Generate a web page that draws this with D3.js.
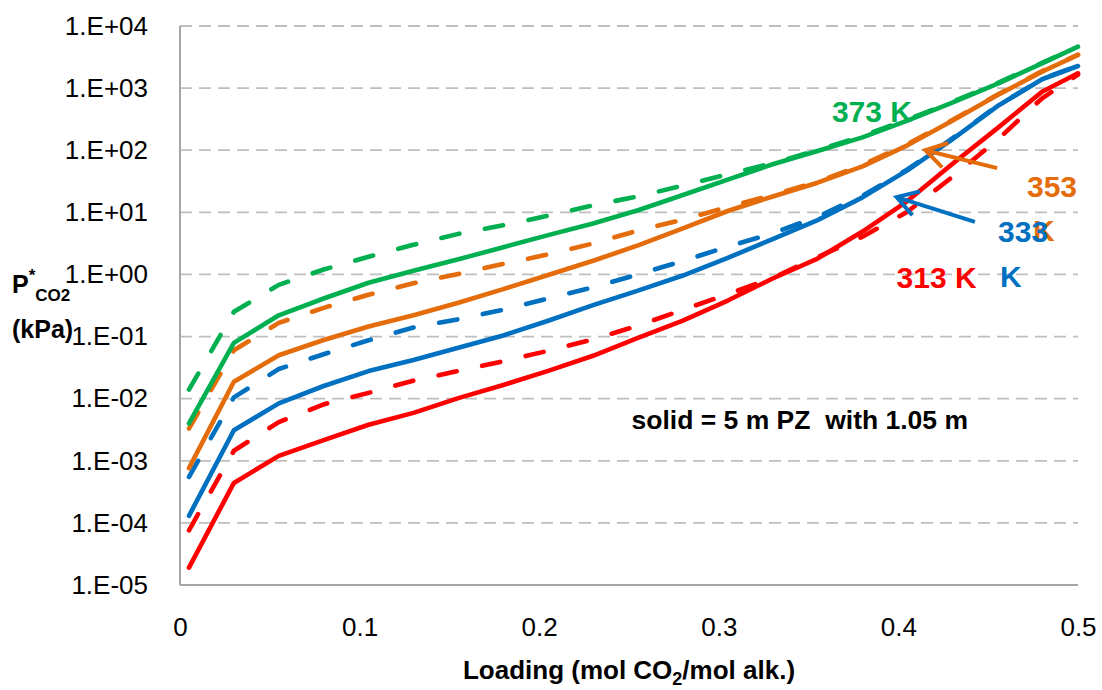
<!DOCTYPE html>
<html>
<head>
<meta charset="utf-8">
<script src="https://cdn.jsdelivr.net/npm/d3@7"></script>
<style>
  html, body { margin: 0; padding: 0; background: #ffffff; }
  svg { display: block; }
  text { font-family: "Liberation Sans", Arial, sans-serif; }
</style>
</head>
<body>
<svg id="chart" width="1102" height="690"></svg>
<script>
// ---------------- data ----------------
const loading = [0.005, 0.03, 0.055, 0.08, 0.105, 0.13, 0.155, 0.18, 0.205, 0.23, 0.255,
                 0.28, 0.305, 0.33, 0.355, 0.38, 0.405, 0.43, 0.455, 0.48, 0.5];

const solid313 = [1.9e-5, 4.4e-4, 1.2e-3, 2.15e-3, 3.8e-3, 5.9e-3, 1.02e-2, 1.66e-2, 2.8e-2, 4.9e-2, 9.5e-2,
                  0.18, 0.38, 0.86, 1.8, 4.9, 15.2, 60, 225, 875, 1730];
const dash313  = [7.6e-5, 1.45e-3, 4.2e-3, 8.1e-3, 1.24e-2, 1.95e-2, 2.8e-2, 4.0e-2, 5.9e-2, 9.0e-2, 0.15,
                  0.27, 0.48, 0.88, 1.9, 4.05, 10.2, 37, 146, 685, 1650];
const solid333 = [1.3e-4, 3.1e-3, 8.4e-3, 1.6e-2, 2.78e-2, 4.2e-2, 6.6e-2, 0.104, 0.18, 0.32, 0.55,
                  0.96, 1.85, 3.7, 7.5, 17.4, 47.5, 150, 509, 1388, 2270];
const dash333  = [5.5e-4, 1.05e-2, 3.0e-2, 5.2e-2, 8.7e-2, 0.14, 0.19, 0.27, 0.41, 0.62, 1.0,
                  1.65, 2.8, 4.6, 8.5, 18.5, 49, 155, 515, 1400, 2300];
const solid353 = [7.6e-4, 1.87e-2, 5.0e-2, 8.8e-2, 0.145, 0.22, 0.35, 0.58, 0.98, 1.66, 2.93,
                  5.5, 10.5, 18, 30, 55, 120, 299, 766, 1837, 3410];
const dash353  = [3.3e-3, 6.0e-2, 0.166, 0.29, 0.47, 0.72, 1.02, 1.48, 2.1, 3.15, 5.1,
                  7.6, 12.2, 19, 31, 58, 125, 305, 780, 1880, 3450];
const solid373 = [4.0e-3, 7.9e-2, 0.22, 0.41, 0.735, 1.15, 1.75, 2.75, 4.3, 6.6, 10.8,
                  19, 33.6, 59.5, 97, 161, 299, 582, 1165, 2510, 4640];
const dash373  = [1.4e-2, 0.25, 0.68, 1.2, 1.93, 3.0, 4.5, 6.2, 8.8, 13, 18,
                  27, 41, 62, 100, 170, 310, 600, 1200, 2550, 4700];

const seriesNames  = ["313 K solid", "313 K dashed", "333 K solid", "333 K dashed", "353 K solid", "353 K dashed", "373 K solid", "373 K dashed"];
const seriesValues = [solid313, dash313, solid333, dash333, solid353, dash353, solid373, dash373];
const seriesColors = ["#FF0000", "#FF0000", "#0070C0", "#0070C0", "#E46C0A", "#E46C0A", "#00B050", "#00B050"];
const seriesDashed = [false, true, false, true, false, true, false, true];

const xTickValues = [0, 0.1, 0.2, 0.3, 0.4, 0.5];
const xTickLabels = ["0", "0.1", "0.2", "0.3", "0.4", "0.5"];
const yTickValues = [1e-5, 1e-4, 1e-3, 1e-2, 1e-1, 1e0, 1e1, 1e2, 1e3, 1e4];
const yTickLabels = ["1.E-05", "1.E-04", "1.E-03", "1.E-02", "1.E-01", "1.E+00", "1.E+01", "1.E+02", "1.E+03", "1.E+04"];

// annotation labels: [text, loading, pressure, color]
const tempLabels = [
  ["373 K", 0.363, 284, "#00B050"],
  ["353", 0.4716, 17.6, "#E46C0A"],
  ["K", 0.475, 3.45, "#E46C0A"],
  ["333", 0.4555, 3.33, "#0070C0"],
  ["K", 0.4566, 0.627, "#0070C0"],
  ["313 K", 0.399, 0.6, "#FF0000"]
];
// arrows: [tail loading, tail P, tip loading, tip P, color]
const arrows = [
  [0.455, 51.6, 0.415, 100, "#E46C0A"],
  [0.4426, 7.0, 0.399, 17.6, "#0070C0"]
];
const noteText = "solid = 5 m PZ  with 1.05 m";

// ---------------- layout ----------------
(function () {
const svg = d3.select("#chart");
const mLeft = 180, mRight = 1078, mTop = 26, mBottom = 585;

const x = d3.scaleLinear().domain([0, 0.5]).range([mLeft, mRight]);
const y = d3.scaleLog().domain([1e-5, 1e4]).range([mBottom, mTop]);

// gridlines
svg.append("g").selectAll("line")
  .data(yTickValues.filter(v => v > 1e-5))
  .join("line")
  .attr("x1", mLeft).attr("x2", mRight)
  .attr("y1", d => y(d)).attr("y2", d => y(d))
  .attr("stroke", "#BFBFBF").attr("stroke-width", 1.8)
  .attr("stroke-dasharray", "12 7");

// axes lines
svg.append("line").attr("x1", mLeft).attr("x2", mLeft).attr("y1", mTop).attr("y2", mBottom)
  .attr("stroke", "#A6A6A6").attr("stroke-width", 2);
svg.append("line").attr("x1", mLeft).attr("x2", mRight).attr("y1", mBottom).attr("y2", mBottom)
  .attr("stroke", "#A6A6A6").attr("stroke-width", 2);

// y axis ticks
const yAxis = d3.axisLeft(y).tickValues(yTickValues)
  .tickFormat((d, i) => yTickLabels[i]).tickSize(0).tickPadding(32);
const gy = svg.append("g").attr("transform", `translate(${mLeft},0)`).call(yAxis);
gy.select(".domain").remove();
gy.selectAll("text").attr("font-size", 26).attr("fill", "#000")
  .attr("font-family", "Liberation Sans, Arial, sans-serif");

// x axis ticks
const xAxis = d3.axisBottom(x).tickValues(xTickValues)
  .tickFormat((d, i) => xTickLabels[i]).tickSize(0).tickPadding(33);
const gx = svg.append("g").attr("transform", `translate(0,${mBottom})`).call(xAxis);
gx.select(".domain").remove();
gx.selectAll("text").attr("font-size", 26).attr("fill", "#000")
  .attr("font-family", "Liberation Sans, Arial, sans-serif");

// series
const line = d3.line().x(d => x(d[0])).y(d => y(d[1]));
seriesValues.forEach((vals, i) => {
  const pts = loading.map((l, j) => [l, vals[j]]);
  svg.append("path")
    .datum(pts)
    .attr("d", line)
    .attr("fill", "none")
    .attr("stroke", seriesColors[i])
    .attr("stroke-width", 4.6)
    .attr("stroke-linejoin", "round")
    .attr("stroke-linecap", "round")
    .attr("stroke-dasharray", seriesDashed[i] ? "18.5 26" : null)
    .attr("aria-label", seriesNames[i]);
});

// arrows
arrows.forEach(a => {
  const x1 = x(a[0]), y1 = y(a[1]), x2 = x(a[2]), y2 = y(a[3]);
  const ang = Math.atan2(y2 - y1, x2 - x1);
  const len = 24, spread = 0.55;
  const g = svg.append("g").attr("stroke", a[4]).attr("stroke-width", 4).attr("stroke-linecap", "butt").attr("fill", "none");
  g.append("line").attr("x1", x1).attr("y1", y1).attr("x2", x2).attr("y2", y2);
  g.append("polyline").attr("points", [
    [x2 - len * Math.cos(ang - spread), y2 - len * Math.sin(ang - spread)],
    [x2, y2],
    [x2 - len * Math.cos(ang + spread), y2 - len * Math.sin(ang + spread)]
  ].map(p => p.join(",")).join(" ")).attr("stroke-linejoin", "miter");
});

// temperature labels
svg.append("g").selectAll("text")
  .data(tempLabels)
  .join("text")
  .attr("x", d => x(d[1]))
  .attr("y", d => y(d[2]))
  .attr("fill", d => d[3])
  .attr("font-size", 30)
  .attr("font-weight", "bold")
  .text(d => d[0]);

// note
svg.append("text")
  .attr("x", x(0.2514)).attr("y", y(0.0032))
  .attr("font-size", 26.5).attr("font-weight", "bold").attr("fill", "#000")
  .style("white-space", "pre")
  .text(noteText);

// x axis title
const xt = svg.append("text")
  .attr("x", 629).attr("y", 679)
  .attr("text-anchor", "middle")
  .attr("font-size", 26).attr("font-weight", "bold").attr("fill", "#000");
xt.append("tspan").text("Loading (mol CO");
xt.append("tspan").attr("font-size", 18).attr("dy", 6).text("2");
xt.append("tspan").attr("dy", -6).text("/mol alk.)");

// y axis title
const yt = svg.append("text")
  .attr("x", 12).attr("y", 293)
  .attr("font-size", 25).attr("font-weight", "bold").attr("fill", "#000");
yt.append("tspan").text("P");
yt.append("tspan").attr("font-size", 17).attr("dy", -12).text("*");
yt.append("tspan").attr("font-size", 17).attr("dy", 20).text("CO2");
svg.append("text")
  .attr("x", 12).attr("y", 338)
  .attr("font-size", 25).attr("font-weight", "bold").attr("fill", "#000")
  .text("(kPa)");
})();
</script>
</body>
</html>
